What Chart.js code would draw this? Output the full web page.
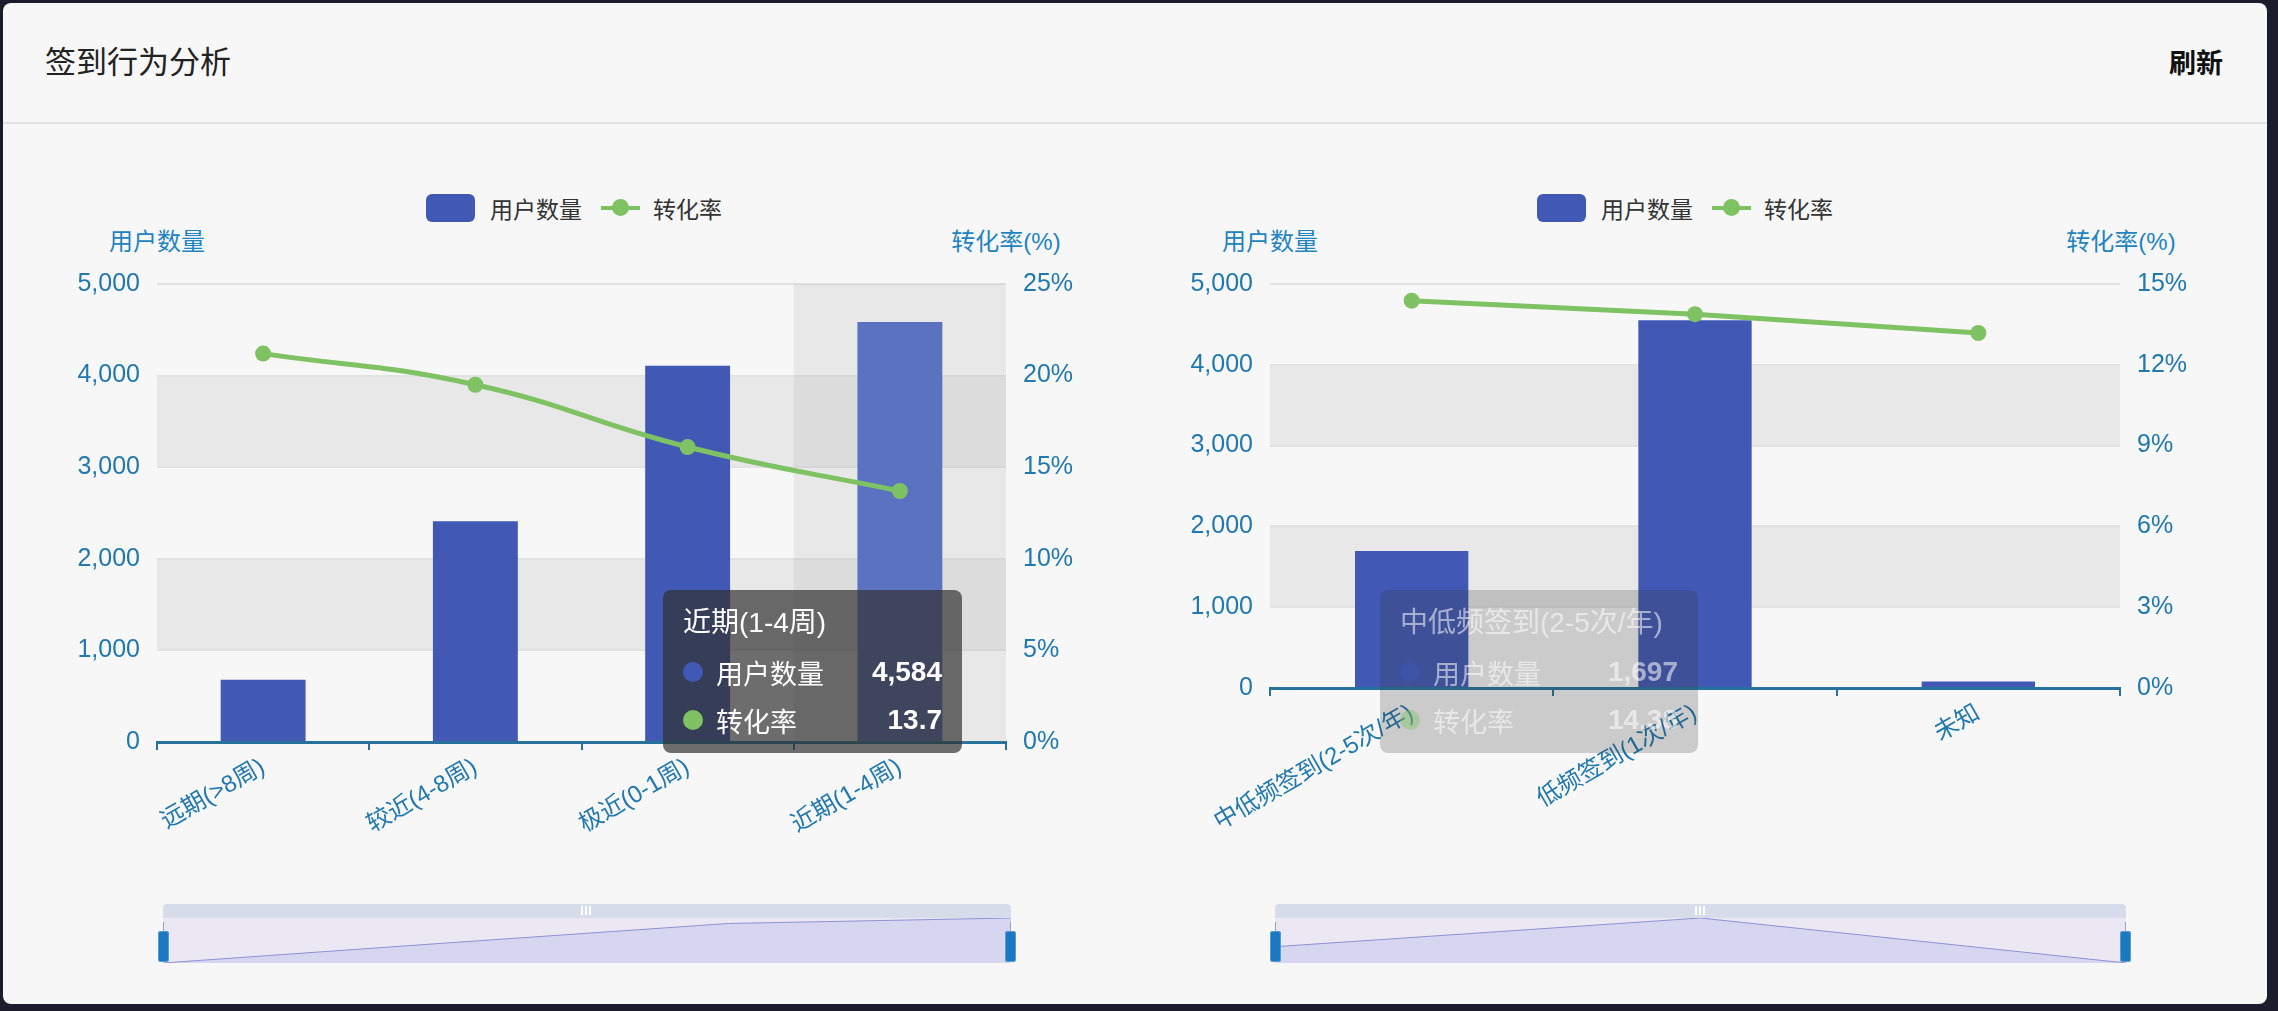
<!DOCTYPE html>
<html lang="zh-CN">
<head>
<meta charset="utf-8">
<title>签到行为分析</title>
<script src="https://cdn.jsdelivr.net/npm/chart.js@4.4.1/dist/chart.umd.min.js"></script>
<style>
  html, body { margin: 0; padding: 0; }
  body {
    width: 2278px; height: 1011px; position: relative; overflow: hidden;
    background: #1b1d2c;
    font-family: "Liberation Sans", "Noto Sans CJK SC", sans-serif;
  }
  .abs { position: absolute; }
  #card { left: 3px; top: 3px; width: 2264px; height: 1001px; background: #f7f7f7; border-radius: 8px; }
  #title { left: 45px; top: 43px; font-size: 31px; line-height: 40px; color: #222; }
  #refresh { right: 55px; top: 44px; font-size: 27px; line-height: 40px; font-weight: bold; color: #111; }
  #hline { left: 3px; top: 122px; width: 2264px; height: 2px; background: #e3e3e3; }

  .legend { display: flex; align-items: center; height: 28px; font-size: 23px; color: #333; }
  .legend .box { width: 49px; height: 28px; border-radius: 6px; margin-right: 15px; }
  .legend .ln { position: relative; width: 39px; height: 28px; margin-right: 13px; }
  .legend .ln b { position: absolute; left: 0; right: 0; top: 12px; height: 4px; }
  .legend .ln i { position: absolute; left: 11px; top: 5px; width: 17px; height: 17px; border-radius: 50%; }
  .legend .txt { margin-right: 19px; }

  .axname { font-size: 24px; line-height: 30px; color: #1f84bf; transform: translateX(-50%); white-space: nowrap; }

  .tip { box-sizing: border-box; border-radius: 8px; padding: 12px 20px 0 20px; height: 163px; color: #fff; font-size: 27px; }
  .tip .ttl { height: 42px; line-height: 42px; margin-bottom: 4px; white-space: nowrap; font-size: 28px; }
  .tip .row { display: flex; align-items: center; height: 48px; }
  .tip .dot { width: 20px; height: 20px; border-radius: 50%; margin-right: 13px; }
  .tip .lbl { flex: 1; }
  .tip .val { font-weight: bold; font-size: 28px; }
  .tip.dark { background: rgba(50, 50, 50, 0.7); }
  .tip.faded { background: rgba(50, 50, 50, 0.22); color: rgba(255, 255, 255, 0.55); }
  .tip.faded .dot { opacity: 0.45; }

  .zbar { height: 14px; background: #d7dcea; border-radius: 4px 4px 0 0; }
  .zbar span { position: absolute; top: 2px; width: 2px; height: 9px; background: #fff; }
  .zbody { background: #ebe8f4; }
  .zhandle { width: 11px; height: 31px; background: #1a78c2; border-radius: 3px; box-shadow: 0 0 0 1px #5a9bd2 inset; }
  .zstem { width: 1px; height: 9px; background: #9aa3bd; }
</style>
</head>
<body>
<div id="card" class="abs"></div>
<div id="title" class="abs">签到行为分析</div>
<div id="refresh" class="abs">刷新</div>
<div id="hline" class="abs"></div>

<div id="legendA" class="abs legend" style="left:426px; top:194px;"></div>
<div id="legendB" class="abs legend" style="left:1537px; top:194px;"></div>

<div class="abs axname" style="left:157px; top:227px;">用户数量</div>
<div class="abs axname" style="left:1006px; top:227px;">转化率(%)</div>
<div class="abs axname" style="left:1270px; top:227px;">用户数量</div>
<div class="abs axname" style="left:2121px; top:227px;">转化率(%)</div>

<canvas id="chartA" class="abs" width="1080" height="640" style="left:40px; top:264px;"></canvas>
<canvas id="chartB" class="abs" width="1088" height="640" style="left:1150px; top:264px;"></canvas>

<!-- dataZoom sliders -->
<div class="abs zbar" style="left:163px; top:904px; width:848px;"><span style="left:418px"></span><span style="left:422px"></span><span style="left:426px"></span></div>
<div class="abs zbody" style="left:163px; top:918px; width:848px; height:45px;"></div>
<canvas id="zoomA" class="abs" width="848" height="45" style="left:163px; top:918px;"></canvas>
<div class="abs zstem" style="left:163px; top:922px;"></div>
<div class="abs zstem" style="left:1010px; top:922px;"></div>
<div class="abs zhandle" style="left:158px; top:931px;"></div>
<div class="abs zhandle" style="left:1005px; top:931px;"></div>

<div class="abs zbar" style="left:1275px; top:904px; width:851px;"><span style="left:420px"></span><span style="left:424px"></span><span style="left:428px"></span></div>
<div class="abs zbody" style="left:1275px; top:918px; width:851px; height:45px;"></div>
<canvas id="zoomB" class="abs" width="851" height="45" style="left:1275px; top:918px;"></canvas>
<div class="abs zstem" style="left:1275px; top:922px;"></div>
<div class="abs zstem" style="left:2125px; top:922px;"></div>
<div class="abs zhandle" style="left:1270px; top:931px;"></div>
<div class="abs zhandle" style="left:2120px; top:931px;"></div>

<script>
// 签到行为分析 - 数据

// 最近签到时间
const recencyLabels = ['远期(>8周)', '较近(4-8周)', '极近(0-1周)', '近期(1-4周)'];
const recencyUsers = [680, 2410, 4108, 4584];
const recencyRate = [21.2, 19.5, 16.1, 13.7];

// 签到频率
const freqLabels = ['中低频签到(2-5次/年)', '低频签到(1次/年)', '未知'];
const freqUsers = [1697, 4552, 80];
const freqRate = [14.38, 13.88, 13.18];

// 坐标轴刻度
const userTicks = [0, 1000, 2000, 3000, 4000, 5000];
const recencyRateTicks = [0, 5, 10, 15, 20, 25];
const freqRateTicks = [0, 3, 6, 9, 12, 15];

const BAR_COLOR = '#4159b5';
const BAR_HOVER = '#5a72c0';
const LINE_COLOR = '#7fc264';
const AXIS_COLOR = '#26729c';
const TICK_COLOR = '#2178ae';
const FONT = '"Liberation Sans", "Noto Sans CJK SC", sans-serif';

// alternating split area bands
const splitAreaPlugin = {
    id: 'splitArea',
    beforeDraw(chart) {
        const {ctx, chartArea, scales: {y}} = chart;
        const ticks = y.ticks;
        ctx.save();
        ctx.fillStyle = 'rgba(200, 200, 200, 0.3)';
        for (let i = 1; i < ticks.length - 1; i += 2) {
            const top = y.getPixelForValue(ticks[i + 1].value);
            const bottom = y.getPixelForValue(ticks[i].value);
            ctx.fillRect(chartArea.left, top, chartArea.right - chartArea.left, bottom - top);
        }
        ctx.restore();
    }
};

// axis pointer shadow behind hovered category
const axisShadowPlugin = {
    id: 'axisShadow',
    beforeDatasetsDraw(chart) {
        const active = chart.getActiveElements();
        if (!active.length) return;
        const {ctx, chartArea, scales: {x}} = chart;
        const w = x.width / chart.data.labels.length;
        const cx = x.getPixelForValue(active[0].index);
        ctx.save();
        ctx.fillStyle = 'rgba(150, 150, 150, 0.15)';
        ctx.fillRect(cx - w / 2, chartArea.top, w, chartArea.bottom - chartArea.top);
        ctx.restore();
    }
};

// html tooltip, placed at a fixed spot
function htmlTooltip(id, cls, left, width) {
    return function ({tooltip}) {
        let el = document.getElementById(id);
        if (!el) {
            el = document.createElement('div');
            el.id = id;
            el.className = 'abs tip ' + cls;
            document.body.appendChild(el);
        }
        if (tooltip.opacity === 0) {
            el.style.display = 'none';
            return;
        }
        el.style.display = 'block';
        el.style.left = left + 'px';
        el.style.top = '590px';
        el.style.width = width + 'px';
        const rows = tooltip.dataPoints.map((dp, i) => `
            <div class="row">
                <span class="dot" style="background:${tooltip.labelColors[i].backgroundColor}"></span>
                <span class="lbl">${dp.dataset.label}</span>
                <span class="val">${dp.formattedValue}</span>
            </div>`).join('');
        el.innerHTML = `<div class="ttl">${tooltip.title[0]}</div>${rows}`;
    };
}

function buildLegend(elId, chart) {
    document.getElementById(elId).innerHTML = chart.data.datasets.map(ds => {
        const icon = ds.type === 'line'
            ? `<span class="ln"><b style="background:${ds.borderColor}"></b><i style="background:${ds.borderColor}"></i></span>`
            : `<span class="box" style="background:${ds.backgroundColor}"></span>`;
        return icon + `<span class="txt">${ds.label}</span>`;
    }).join('');
}

function fixedTicks(list) {
    return s => { s.ticks = list.map(v => ({value: v})); };
}

// move the canvas so the plot area sits at plotTop..plotBottom (page px)
function placePlot(chart, plotTop, plotBottom) {
    for (let k = 0; k < 3; k++) {
        const canvasTop = plotTop - chart.chartArea.top;
        chart.canvas.style.top = canvasTop + 'px';
        const xh = chart.height - (plotBottom - canvasTop);
        chart.options.scales.x.afterFit = s => { s.height = xh; };
        chart.update();
        if (Math.abs(chart.chartArea.bottom + canvasTop - plotBottom) < 0.5 &&
            Math.abs(chart.chartArea.top + canvasTop - plotTop) < 0.5) break;
    }
}

function buildChart(canvasId, cfg) {
    return new Chart(document.getElementById(canvasId), {
        type: 'bar',
        data: {
            labels: cfg.labels,
            datasets: [
                {
                    type: 'bar',
                    label: '用户数量',
                    data: cfg.users,
                    yAxisID: 'y',
                    backgroundColor: BAR_COLOR,
                    hoverBackgroundColor: BAR_HOVER,
                    borderWidth: 0,
                    hoverBorderWidth: 0,
                    barPercentage: 0.4,
                    categoryPercentage: 1,
                    order: 2
                },
                {
                    type: 'line',
                    label: '转化率',
                    data: cfg.rate,
                    yAxisID: 'y1',
                    borderColor: LINE_COLOR,
                    backgroundColor: LINE_COLOR,
                    borderWidth: 5,
                    pointRadius: 8,
                    pointHoverRadius: 8,
                    pointBorderWidth: 0,
                    pointHoverBorderWidth: 0,
                    pointHoverBackgroundColor: LINE_COLOR,
                    tension: cfg.tension,
                    order: 1
                }
            ]
        },
        options: {
            responsive: false,
            animation: false,
            events: [],
            locale: 'en-US',
            layout: { padding: { top: 10, left: 0, right: 0, bottom: 0 } },
            plugins: {
                legend: { display: false },
                tooltip: { enabled: false, mode: 'index', external: cfg.tooltip }
            },
            scales: {
                x: {
                    grid: { display: true, drawOnChartArea: false, drawTicks: true, tickLength: 8, color: AXIS_COLOR, lineWidth: 2, offset: true },
                    border: { display: true, color: AXIS_COLOR, width: 3 },
                    ticks: { color: TICK_COLOR, font: { family: FONT, size: 24 }, minRotation: 30, maxRotation: 30, autoSkip: false, padding: 3 },
                    afterFit: s => { s.height = 150; }
                },
                y: {
                    position: 'left',
                    min: userTicks[0],
                    max: userTicks[userTicks.length - 1],
                    afterBuildTicks: fixedTicks(userTicks),
                    grid: { color: '#e2e2e2', lineWidth: 2, drawTicks: false },
                    border: { display: false },
                    ticks: { color: TICK_COLOR, font: { family: FONT, size: 25 }, padding: 17, callback: v => v.toLocaleString('en-US') },
                    afterFit: s => { s.width = cfg.leftWidth; }
                },
                y1: {
                    position: 'right',
                    min: cfg.rateTicks[0],
                    max: cfg.rateTicks[cfg.rateTicks.length - 1],
                    afterBuildTicks: fixedTicks(cfg.rateTicks),
                    grid: { drawOnChartArea: false, drawTicks: false },
                    border: { display: false },
                    ticks: { color: TICK_COLOR, font: { family: FONT, size: 25 }, padding: 17, callback: v => v + '%' },
                    afterFit: s => { s.width = cfg.rightWidth; }
                }
            }
        },
        plugins: [splitAreaPlugin, axisShadowPlugin]
    });
}

// data shadow in the zoom slider
function buildSlider(canvasId, labels, values) {
    return new Chart(document.getElementById(canvasId), {
        type: 'line',
        data: {
            labels: labels,
            datasets: [{
                data: values,
                borderColor: '#8d91d2',
                borderWidth: 1,
                backgroundColor: '#d7d6f1',
                fill: 'start',
                pointRadius: 0,
                tension: 0
            }]
        },
        options: {
            responsive: false,
            animation: false,
            events: [],
            layout: { padding: 0 },
            plugins: { legend: { display: false }, tooltip: { enabled: false } },
            scales: {
                x: { display: false, offset: false },
                y: { display: false, min: Math.min(...values), max: Math.max(...values) }
            }
        }
    });
}

const chartA = buildChart('chartA', {
    labels: recencyLabels, users: recencyUsers, rate: recencyRate, rateTicks: recencyRateTicks,
    tension: 0.45, leftWidth: 117, rightWidth: 114,
    tooltip: htmlTooltip('tipA', 'dark', 663, 299)
});

const chartB = buildChart('chartB', {
    labels: freqLabels, users: freqUsers, rate: freqRate, rateTicks: freqRateTicks,
    tension: 0, leftWidth: 120, rightWidth: 118,
    tooltip: htmlTooltip('tipB', 'faded', 1380, 318)
});

placePlot(chartA, 284, 742);
placePlot(chartB, 284, 688);

buildLegend('legendA', chartA);
buildLegend('legendB', chartB);

// hovered category on the left chart
const activeA = [{datasetIndex: 0, index: 3}, {datasetIndex: 1, index: 3}];
chartA.setActiveElements(activeA);
chartA.tooltip.setActiveElements(activeA, {x: 756, y: 271});
chartA.update();

// fading tooltip on the right chart
const activeB = [{datasetIndex: 0, index: 0}, {datasetIndex: 1, index: 0}];
chartB.tooltip.setActiveElements(activeB, {x: 260, y: 300});
chartB.update();

buildSlider('zoomA', recencyLabels, recencyUsers);
buildSlider('zoomB', freqLabels, freqUsers);
</script>
</body>
</html>
